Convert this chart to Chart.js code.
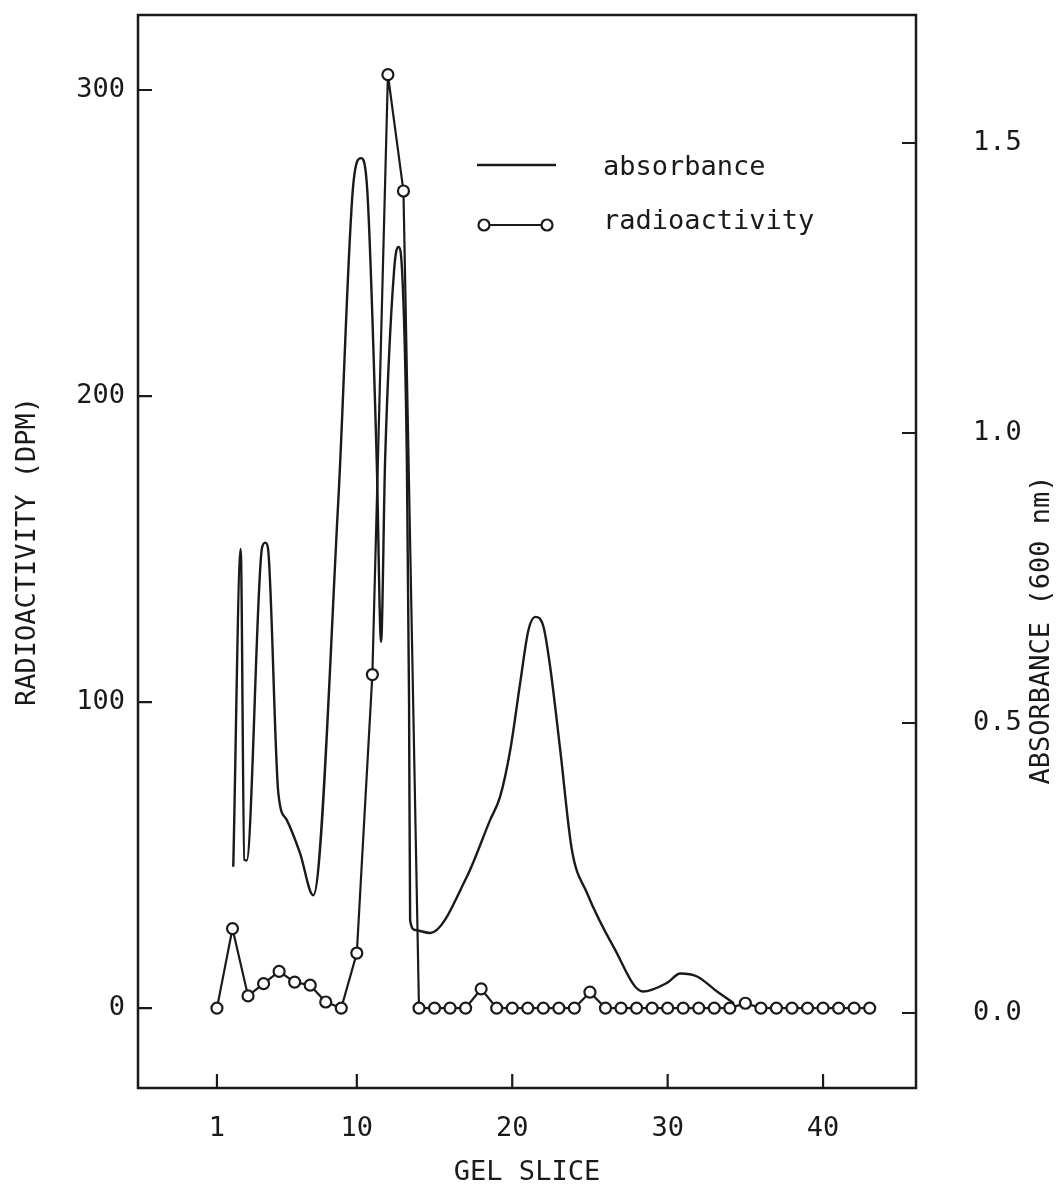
<!DOCTYPE html>
<html lang="en">
<head>
  <meta charset="UTF-8">
  <title>Gel slice profile</title>
  <script src="https://cdn.jsdelivr.net/npm/chart.js"></script>
  <style>
    html, body { margin: 0; padding: 0; background: #fff; }
    canvas { display: block; }
  </style>
</head>
<body>

  <canvas id="grafica" width="1057" height="1189"></canvas>

  <script>
    // tick labels
    const sliceTicks = [1, 10, 20, 30, 40];
    const dpmTicks = [0, 100, 200, 300];
    const absTicks = [0, 0.5, 1.0, 1.5];

    // radioactivity, one value per gel slice
    const slices = [1, 2, 3, 4, 5, 6, 7, 8, 9, 10, 11, 12, 13, 14, 15, 16, 17, 18, 19, 20, 21,
                    22, 23, 24, 25, 26, 27, 28, 29, 30, 31, 32, 33, 34, 35, 36, 37, 38, 39, 40, 41, 42, 43];
    const dpm = [0, 26, 4, 8, 12, 8.5, 7.5, 2, 0, 18, 109, 305, 267, 0, 0, 0, 0, 6.3, 0, 0, 0,
                 0, 0, 0, 5.2, 0, 0, 0, 0, 0, 0, 0, 0, 0, 1.6, 0, 0, 0, 0, 0, 0, 0, 0];

    // absorbance trace
    const absX = [2.05, 2.53, 2.76, 2.91, 3.90, 4.11, 4.28, 4.95, 5.49, 6.34, 7.20, 8.81, 9.78, 10.27,
                  10.64, 11.28, 11.56, 11.82, 12.40, 12.67, 12.91, 13.22, 13.36, 13.43, 13.75, 14.72,
                  17.08, 18.58, 19.22, 19.87, 20.51, 21.04, 21.48, 22.01, 22.44, 23.09, 23.84, 24.81,
                  26.52, 28.40, 29.96, 30.81, 31.89, 33.18, 34.25];
    const absY = [0.252, 0.800, 0.264, 0.263, 0.802, 0.811, 0.802, 0.379, 0.333, 0.276, 0.203, 0.884,
                  1.431, 1.474, 1.431, 0.953, 0.640, 0.953, 1.281, 1.321, 1.281, 0.953, 0.54, 0.160,
                  0.143, 0.138, 0.235, 0.333, 0.373, 0.453, 0.569, 0.660, 0.683, 0.666, 0.597, 0.453,
                  0.281, 0.207, 0.114, 0.037, 0.052, 0.068, 0.063, 0.037, 0.017];

    const ink = '#1a1a1a';
    const familia = "'DejaVu Sans Mono', monospace";
    const fuente = { family: familia, size: 27 };
    const fuenteY = { family: familia, size: 27, lineHeight: 1 };

    // frame, inward tick marks, right axis title and the legend box
    const adornos = {
      id: 'adornos',
      afterDraw(chart) {
        const { ctx, chartArea: a, scales } = chart;
        ctx.save();
        ctx.strokeStyle = ink;
        ctx.lineWidth = 2.5;
        ctx.strokeRect(a.left, a.top, a.right - a.left, a.bottom - a.top);

        const largo = 14;
        ctx.lineWidth = 2.2;
        ctx.beginPath();
        sliceTicks.forEach(v => {
          const px = scales.x.getPixelForValue(v);
          ctx.moveTo(px, a.bottom); ctx.lineTo(px, a.bottom - largo);
        });
        dpmTicks.forEach(v => {
          const py = scales.y.getPixelForValue(v);
          ctx.moveTo(a.left, py); ctx.lineTo(a.left + largo, py);
        });
        absTicks.forEach(v => {
          const py = scales.y2.getPixelForValue(v);
          ctx.moveTo(a.right, py); ctx.lineTo(a.right - largo, py);
        });
        ctx.stroke();

        ctx.fillStyle = ink;
        ctx.font = `${fuente.size}px ${fuente.family}`;

        // right title reads bottom to top like the left one
        ctx.save();
        ctx.translate(1042, 630);
        ctx.rotate(-Math.PI / 2);
        ctx.textAlign = 'center';
        ctx.textBaseline = 'middle';
        ctx.fillText('ABSORBANCE (600 nm)', 0, 0);
        ctx.restore();

        // legend
        const [radio, abs] = chart.data.datasets;
        ctx.textAlign = 'left';
        ctx.textBaseline = 'alphabetic';
        ctx.lineWidth = abs.borderWidth;
        ctx.beginPath();
        ctx.moveTo(477, 165); ctx.lineTo(556, 165);
        ctx.stroke();
        ctx.fillText(abs.label, 603, 175);

        ctx.lineWidth = radio.borderWidth;
        ctx.beginPath();
        ctx.moveTo(484, 225); ctx.lineTo(547, 225);
        ctx.stroke();
        [484, 547].forEach(cx => {
          ctx.beginPath();
          ctx.arc(cx, 225, radio.pointRadius, 0, Math.PI * 2);
          ctx.fillStyle = '#fff';
          ctx.fill();
          ctx.lineWidth = radio.pointBorderWidth;
          ctx.stroke();
        });
        ctx.fillStyle = ink;
        ctx.fillText(radio.label, 603, 229);
        ctx.restore();
      }
    };

    // invisible tick marks only used to push the labels off the axis
    const hueco = largo => ({
      display: true, drawOnChartArea: false, drawTicks: true,
      tickLength: largo, tickColor: 'rgba(0,0,0,0)'
    });

    const ctx = document.getElementById('grafica').getContext('2d');
    new Chart(ctx, {
      type: 'line',
      data: {
        datasets: [
          {
            label: 'radioactivity',
            data: slices.map((s, i) => ({ x: s, y: dpm[i] })),
            yAxisID: 'y',
            borderColor: ink,
            borderWidth: 2.2,
            pointRadius: 5.5,
            pointBackgroundColor: '#fff',
            pointBorderColor: ink,
            pointBorderWidth: 2.2,
            tension: 0
          },
          {
            label: 'absorbance',
            data: absX.map((x, i) => ({ x: x, y: absY[i] })),
            yAxisID: 'y2',
            borderColor: ink,
            borderWidth: 2.4,
            pointRadius: 0,
            cubicInterpolationMode: 'monotone'
          }
        ]
      },
      options: {
        responsive: false,
        animation: false,
        devicePixelRatio: 1,
        layout: { padding: { top: 15, left: 0, right: 0, bottom: 0 } },
        plugins: { legend: { display: false }, tooltip: { enabled: false } },
        scales: {
          x: {
            type: 'linear',
            min: -4.08,
            max: 45.98,
            afterBuildTicks: s => { s.ticks = sliceTicks.map(v => ({ value: v })); },
            afterFit: s => { s.height = 101; },
            grid: { display: false, drawTicks: false },
            border: { display: false },
            ticks: { color: ink, font: fuente, padding: 25, maxRotation: 0, autoSkip: false },
            title: { display: true, text: 'GEL SLICE', color: ink, font: fuente, padding: 0 }
          },
          y: {
            position: 'left',
            min: -26.1,
            max: 324.5,
            afterBuildTicks: s => { s.ticks = dpmTicks.map(v => ({ value: v })); },
            afterFit: s => { s.width = 138; },
            grid: hueco(13),
            border: { display: false },
            ticks: { color: ink, font: fuenteY, padding: 0 },
            title: { display: true, text: 'RADIOACTIVITY (DPM)', color: ink, font: fuente, padding: { top: 12, bottom: 0 } }
          },
          y2: {
            position: 'right',
            min: -0.1293,
            max: 1.7207,
            afterBuildTicks: s => { s.ticks = absTicks.map(v => ({ value: v })); },
            afterFit: s => { s.width = 141; },
            grid: hueco(57),
            border: { display: false },
            ticks: { color: ink, font: fuenteY, padding: 0, callback: v => v.toFixed(1) }
          }
        }
      },
      plugins: [adornos]
    });
  </script>
</body>
</html>
